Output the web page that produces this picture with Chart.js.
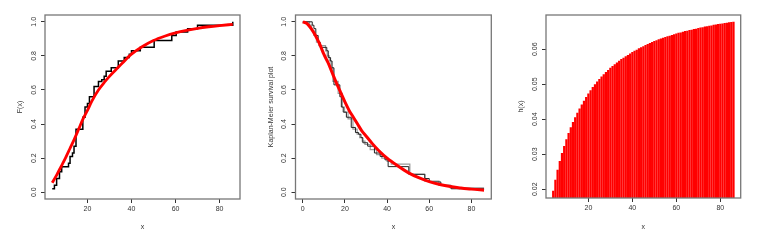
<!DOCTYPE html>
<html>
<head>
<meta charset="utf-8">
<script src="https://cdn.jsdelivr.net/npm/chart.js@4/dist/chart.umd.min.js"></script>
<style>
  body { margin: 0; background: #fff; }
  #wrap { position: relative; width: 762px; height: 241px; }
  canvas { position: absolute; top: 0; }
</style>
</head>
<body>
<div id="wrap">
  <canvas id="c1" width="254" height="241" style="left:0px"></canvas>
  <canvas id="c2" width="254" height="241" style="left:254px"></canvas>
  <canvas id="c3" width="254" height="241" style="left:508px"></canvas>
</div>
<script>
// empirical cdf steps (panel 1)
const ecdfX = [4, 5, 6, 7.3, 8.3, 11.4, 12.1, 13.2, 13.9, 14.8, 17.9, 18.9, 20, 20.9, 23, 25, 26.5, 27.6, 28.5, 30.8, 34, 36.7, 39, 40, 44, 50.3, 58.3, 60.3, 65.5, 70, 86];
const ecdfY = [0.02, 0.04, 0.08, 0.12, 0.15, 0.17, 0.21, 0.23, 0.27, 0.37, 0.44, 0.50, 0.52, 0.56, 0.62, 0.65, 0.66, 0.68, 0.71, 0.73, 0.77, 0.79, 0.81, 0.83, 0.85, 0.89, 0.92, 0.94, 0.96, 0.98, 1.0];

// fitted cdf (red, panel 1)
const cdfX = [4, 6, 8, 10, 12, 14, 16, 18, 20, 22, 25, 28, 30, 33, 36, 40, 45, 50, 55, 60, 65, 70, 75, 80, 86];
const cdfY = [0.055, 0.10, 0.15, 0.20, 0.255, 0.31, 0.37, 0.43, 0.48, 0.535, 0.60, 0.65, 0.68, 0.72, 0.76, 0.81, 0.855, 0.89, 0.915, 0.935, 0.95, 0.962, 0.971, 0.978, 0.985];

// kaplan-meier steps (panel 2)
const kmX = [0, 4.5, 5.3, 6.2, 7.3, 8.3, 11.4, 12.1, 13.2, 13.9, 14.8, 17.6, 18.3, 19.2, 20.7, 23, 25, 26.5, 27.6, 28.5, 30.8, 34, 36.7, 39, 40.5, 50.3, 57.9, 60, 65.5, 70.4, 86];
const kmY = [1, 0.98, 0.96, 0.92, 0.88, 0.85, 0.83, 0.79, 0.77, 0.73, 0.63, 0.56, 0.50, 0.47, 0.44, 0.38, 0.35, 0.34, 0.32, 0.29, 0.27, 0.23, 0.21, 0.19, 0.15, 0.105, 0.08, 0.06, 0.04, 0.02, 0.02];
const kmGrayX = [0, 3.2, 4.2, 5.3, 6.5, 7.6, 10.8, 11.6, 12.6, 13.4, 14.3, 16.8, 18.8, 19.8, 21.5, 23.8, 25.8, 27, 28.2, 29.5, 32, 35, 37.5, 40, 42, 50.8, 57.9, 64.6, 70, 86];
const kmGrayY = [1, 0.98, 0.95, 0.92, 0.88, 0.86, 0.83, 0.80, 0.77, 0.73, 0.65, 0.58, 0.50, 0.47, 0.43, 0.37, 0.34, 0.32, 0.30, 0.28, 0.25, 0.22, 0.20, 0.18, 0.165, 0.105, 0.065, 0.04, 0.025, 0.025];

// fitted survival (red, panel 2)
const survX = [0, 2, 4, 6, 8, 10, 12, 14, 16, 18, 20, 22, 24, 26, 28, 30, 33, 36, 40, 45, 50, 55, 60, 65, 70, 75, 80, 86];
const survY = [1.0, 0.99, 0.96, 0.92, 0.87, 0.81, 0.76, 0.70, 0.64, 0.585, 0.53, 0.48, 0.44, 0.40, 0.36, 0.33, 0.285, 0.245, 0.20, 0.155, 0.115, 0.085, 0.062, 0.045, 0.033, 0.025, 0.018, 0.012];

// hazard (panel 3)
const hazX = [4, 5, 6, 7, 8, 9, 10, 11, 12, 13, 14, 15, 16, 17, 18, 19, 20, 21, 22, 23, 24, 25, 26, 27, 28, 29,
  30, 31, 32, 33, 34, 35, 36, 37, 38, 39, 40, 41, 42, 43, 44, 45, 46, 47, 48, 49, 50, 51, 52, 53, 54, 55,
  56, 57, 58, 59, 60, 61, 62, 63, 64, 65, 66, 67, 68, 69, 70, 71, 72, 73, 74, 75, 76, 77, 78, 79, 80, 81,
  82, 83, 84, 85, 86];
const hazY = [0.0195, 0.0226, 0.0255, 0.0280, 0.0303, 0.0323, 0.0342, 0.0360, 0.0376, 0.0391,
  0.0405, 0.0418, 0.0430, 0.0441, 0.0452, 0.0463, 0.0473, 0.0482, 0.0491, 0.0499,
  0.0507, 0.0514, 0.0521, 0.0528, 0.0534, 0.0540, 0.0546, 0.0551, 0.0556, 0.0561,
  0.0566, 0.0571, 0.0575, 0.0579, 0.0583, 0.0587, 0.0591, 0.0595, 0.0598, 0.0602,
  0.0605, 0.0608, 0.0611, 0.0614, 0.0617, 0.0620, 0.0623, 0.0625, 0.0628, 0.0630,
  0.0632, 0.0634, 0.0636, 0.0638, 0.0640, 0.0642, 0.0644, 0.0646, 0.0647, 0.0649,
  0.0651, 0.0652, 0.0654, 0.0655, 0.0657, 0.0658, 0.0660, 0.0661, 0.0662, 0.0664,
  0.0665, 0.0666, 0.0667, 0.0669, 0.0670, 0.0671, 0.0672, 0.0673, 0.0674, 0.0675,
  0.0676, 0.0677, 0.0678];

const FONT = '"Liberation Sans", Arial, Helvetica, sans-serif';
const INK = '#333';

function pts(xs, ys) {
  return xs.map((x, i) => ({ x: x, y: ys[i] }));
}

// box + rotated y tick labels, R style
const rStyle = {
  id: 'rStyle',
  afterDraw(chart, args, opts) {
    const { ctx, chartArea: a } = chart;
    const y = chart.scales.y;
    ctx.save();
    ctx.strokeStyle = '#777';
    ctx.lineWidth = 1.3;
    ctx.strokeRect(a.left, a.top, a.right - a.left, a.bottom - a.top);
    ctx.fillStyle = INK;
    ctx.font = '7px ' + FONT;
    ctx.textAlign = 'center';
    ctx.textBaseline = 'middle';
    y.ticks.forEach(t => {
      ctx.save();
      ctx.translate(a.left - 11, y.getPixelForValue(t.value));
      ctx.rotate(-Math.PI / 2);
      ctx.fillText(t.value.toFixed(opts.digits), 0, 0);
      ctx.restore();
    });
    ctx.restore();
  }
};

function makeChart(id, type, datasets, box, xr, yr, yStep, digits, yTitle, yTitlePad) {
  const H = 241, W = 254;
  return new Chart(document.getElementById(id), {
    type: type,
    data: { datasets: datasets },
    plugins: [rStyle],
    options: {
      responsive: false,
      animation: false,
      events: [],
      layout: { padding: { left: 0, top: box.top, right: W - box.right, bottom: 0 } },
      plugins: { legend: { display: false }, tooltip: { enabled: false }, rStyle: { digits: digits } },
      scales: {
        x: {
          type: 'linear', min: xr[0], max: xr[1], offset: false,
          afterFit: s => { s.height = H - box.bottom; },
          grid: { display: true, offset: false, drawOnChartArea: false, tickLength: 4, color: INK },
          border: { display: false },
          ticks: { stepSize: 20, includeBounds: false, padding: 2, color: INK, maxRotation: 0, autoSkip: false,
            font: { size: 7, family: FONT } },
          title: { display: true, text: 'x', color: INK, font: { size: 7, family: FONT }, padding: { top: 0, bottom: 10 } }
        },
        y: {
          type: 'linear', min: yr[0], max: yr[1],
          afterFit: s => { s.width = box.left; },
          grid: { display: true, drawOnChartArea: false, tickLength: 4, color: INK },
          border: { display: false },
          ticks: { stepSize: yStep, includeBounds: false, display: false },
          title: { display: true, text: yTitle, color: INK, font: { size: 7, family: FONT }, padding: { top: yTitlePad, bottom: 0 } }
        }
      }
    }
  });
}

makeChart('c1', 'scatter', [
  { data: pts(cdfX, cdfY), showLine: true, borderColor: '#ff0000', borderWidth: 2.8, pointRadius: 0, cubicInterpolationMode: 'monotone' },
  { data: pts(ecdfX, ecdfY), showLine: true, borderColor: '#000', borderWidth: 1.5, pointRadius: 0, stepped: 'before' }
], { left: 45, right: 240, top: 15, bottom: 199 }, [0.72, 89.28], [-0.04, 1.04], 0.2, 1, 'F(x)', 15.8);

makeChart('c2', 'scatter', [
  { data: pts(survX, survY), showLine: true, borderColor: '#ff0000', borderWidth: 3, pointRadius: 0, cubicInterpolationMode: 'monotone' },
  { data: pts(kmX, kmY), showLine: true, borderColor: '#222', borderWidth: 1, pointRadius: 0, stepped: 'before' },
  { data: pts(kmGrayX, kmGrayY), showLine: true, borderColor: '#999', borderWidth: 1.2, pointRadius: 0, stepped: 'before' }
], { left: 41.5, right: 237.3, top: 15, bottom: 199 }, [-3.44, 89.44], [-0.04, 1.04], 0.2, 1, 'Kaplan-Meier survival plot', 12.5);

makeChart('c3', 'bar', [
  { data: pts(hazX, hazY), backgroundColor: '#ff0000', barThickness: 1.6 }
], { left: 38, right: 232.7, top: 15, bottom: 198 }, [0.72, 89.28], [0.0175, 0.0698], 0.01, 2, 'h(x)', 9.1);
</script>
</body>
</html>
